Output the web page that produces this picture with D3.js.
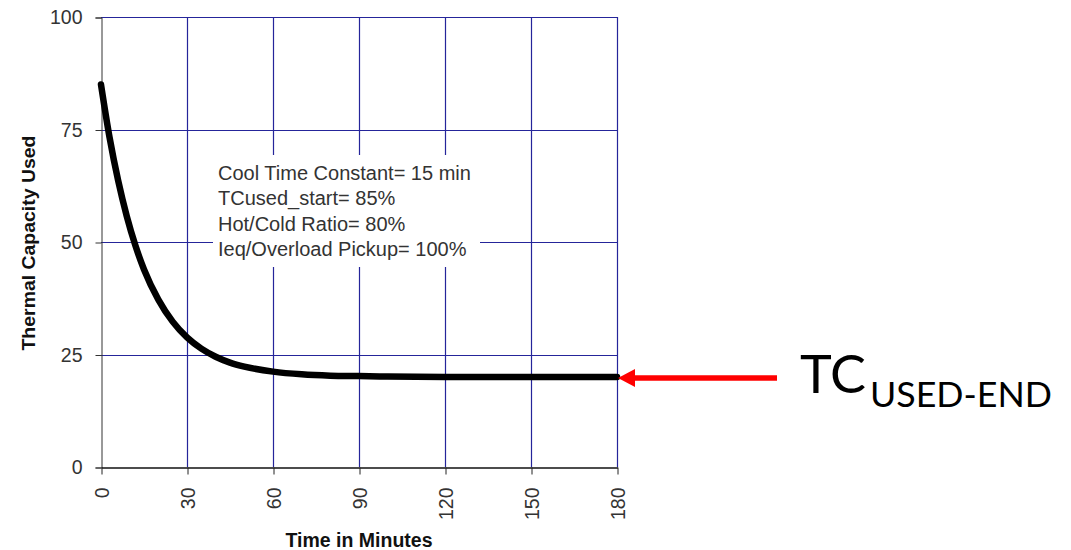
<!DOCTYPE html>
<html>
<head>
<meta charset="utf-8">
<script src="https://cdn.jsdelivr.net/npm/d3@7"></script>
<style>
  body { margin: 0; background: #fff; }
  svg { display: block; }
</style>
</head>
<body>
<script>
// values
var minutes = [0, 3, 6, 9, 12, 15, 20, 25, 30, 35, 40, 45, 50, 60, 70, 80, 90, 100, 120, 150, 180];
var tcUsed  = [85, 73.2, 63.6, 55.7, 49.2, 43.9, 37.2, 32.3, 28.8, 26.3, 24.5, 23.2, 22.3, 21.2, 20.6, 20.3, 20.2, 20.1, 20.0, 20.0, 20.0];
var xTicks = [0, 30, 60, 90, 120, 150, 180];
var yTicks = [0, 25, 50, 75, 100];
var noteLines = ["Cool Time Constant= 15 min", "TCused_start= 85%", "Hot/Cold Ratio= 80%", "Ieq/Overload Pickup= 100%"];
var endLevel = 20;

function init () {
  'use strict';
  var W = 1071, H = 550;
  var left = 101, top = 17, w = 516, h = 450;
  var grid = "#25259a";
  var font = "Liberation Sans, Arial, sans-serif";

  var svg = d3.select("body").append("svg")
    .attr("width", W)
    .attr("height", H);

  var x = d3.scaleLinear().domain([0, 180]).range([left, left + w]);
  var y = d3.scaleLinear().domain([0, 100]).range([top + h, top]);

  // grid
  svg.selectAll(".hgrid")
    .data(yTicks.filter(function(d) { return d > 0; }))
    .enter().append("line")
    .attr("x1", left).attr("x2", left + w)
    .attr("y1", function(d) { return Math.round(y(d)) + 0.5; })
    .attr("y2", function(d) { return Math.round(y(d)) + 0.5; })
    .attr("stroke", grid).attr("stroke-width", 1.2);

  svg.selectAll(".vgrid")
    .data(xTicks.filter(function(d) { return d > 0; }))
    .enter().append("line")
    .attr("x1", function(d) { return Math.round(x(d)) + 0.5; })
    .attr("x2", function(d) { return Math.round(x(d)) + 0.5; })
    .attr("y1", top).attr("y2", top + h)
    .attr("stroke", grid).attr("stroke-width", 1.2);

  // note box (white behind text)
  svg.append("rect")
    .attr("x", 213).attr("y", 155)
    .attr("width", 267).attr("height", 112)
    .attr("fill", "#fff");

  svg.append("g")
    .selectAll("text")
    .data(noteLines)
    .enter().append("text")
    .attr("x", 218)
    .attr("y", function(d, i) { return 180 + i * 25.4; })
    .attr("font-family", font)
    .attr("font-size", 20)
    .attr("fill", "#333")
    .text(function(d) { return d; });

  // axes
  var yAxis = svg.append("g")
    .attr("transform", "translate(" + (left + 0.5) + ",0.5)")
    .call(d3.axisLeft(y).tickValues(yTicks).tickSize(6).tickPadding(13));
  yAxis.select(".domain").attr("stroke", "#333");
  yAxis.selectAll(".tick line").attr("stroke", "#333");
  yAxis.selectAll("text")
    .attr("font-family", font)
    .attr("font-size", 19.5)
    .attr("fill", "#333");

  var xAxis = svg.append("g")
    .attr("transform", "translate(0.5," + (top + h + 0.5) + ")")
    .call(d3.axisBottom(x).tickValues(xTicks).tickSize(7).tickSizeOuter(0));
  xAxis.select(".domain").attr("stroke", "#111").attr("stroke-width", 1.5);
  xAxis.selectAll(".tick line").attr("stroke", "#222");
  xAxis.selectAll("text")
    .attr("font-family", font)
    .attr("font-size", 19.5)
    .attr("fill", "#333")
    .attr("transform", "rotate(-90)")
    .attr("text-anchor", "end")
    .attr("x", -20)
    .attr("y", 0)
    .attr("dy", "0.35em");

  // axis titles
  svg.append("text")
    .attr("transform", "translate(35," + 243 + ") rotate(-90)")
    .attr("text-anchor", "middle")
    .attr("font-family", font)
    .attr("font-weight", "bold")
    .attr("font-size", 18.5)
    .attr("textLength", 215)
    .attr("lengthAdjust", "spacingAndGlyphs")
    .attr("fill", "#111")
    .text("Thermal Capacity Used");

  svg.append("text")
    .attr("x", 359)
    .attr("y", 547)
    .attr("text-anchor", "middle")
    .attr("font-family", font)
    .attr("font-weight", "bold")
    .attr("font-size", 19.5)
    .attr("fill", "#111")
    .text("Time in Minutes");

  // curve
  var line = d3.line()
    .x(function(d) { return x(d[0]); })
    .y(function(d) { return y(d[1]); })
    .curve(d3.curveMonotoneX);

  svg.append("path")
    .datum(d3.zip(minutes, tcUsed))
    .attr("d", line)
    .attr("fill", "none")
    .attr("stroke", "#000")
    .attr("stroke-width", 6.5)
    .attr("stroke-linecap", "round")
    .attr("stroke-linejoin", "round");

  // red arrow
  var ay = y(endLevel) + 1;
  var tip = x(180) + 1;
  svg.append("line")
    .attr("x1", 777).attr("x2", tip + 14)
    .attr("y1", ay).attr("y2", ay)
    .attr("stroke", "#f00").attr("stroke-width", 5.5);
  svg.append("path")
    .attr("d", "M" + tip + "," + ay + "L" + (tip + 17) + "," + (ay - 9) + "L" + (tip + 17) + "," + (ay + 9) + "Z")
    .attr("fill", "#f00");

  svg.append("text")
    .attr("x", 800).attr("y", 393)
    .attr("font-family", "Lato, sans-serif")
    .attr("font-size", 53)
    .attr("textLength", 66)
    .attr("lengthAdjust", "spacingAndGlyphs")
    .attr("fill", "#000")
    .text("TC");
  svg.append("text")
    .attr("x", 870).attr("y", 407)
    .attr("font-family", "Lato, sans-serif")
    .attr("font-size", 34)
    .attr("textLength", 182)
    .attr("lengthAdjust", "spacingAndGlyphs")
    .attr("fill", "#000")
    .text("USED-END");
}

window.onload = init;
</script>
</body>
</html>
